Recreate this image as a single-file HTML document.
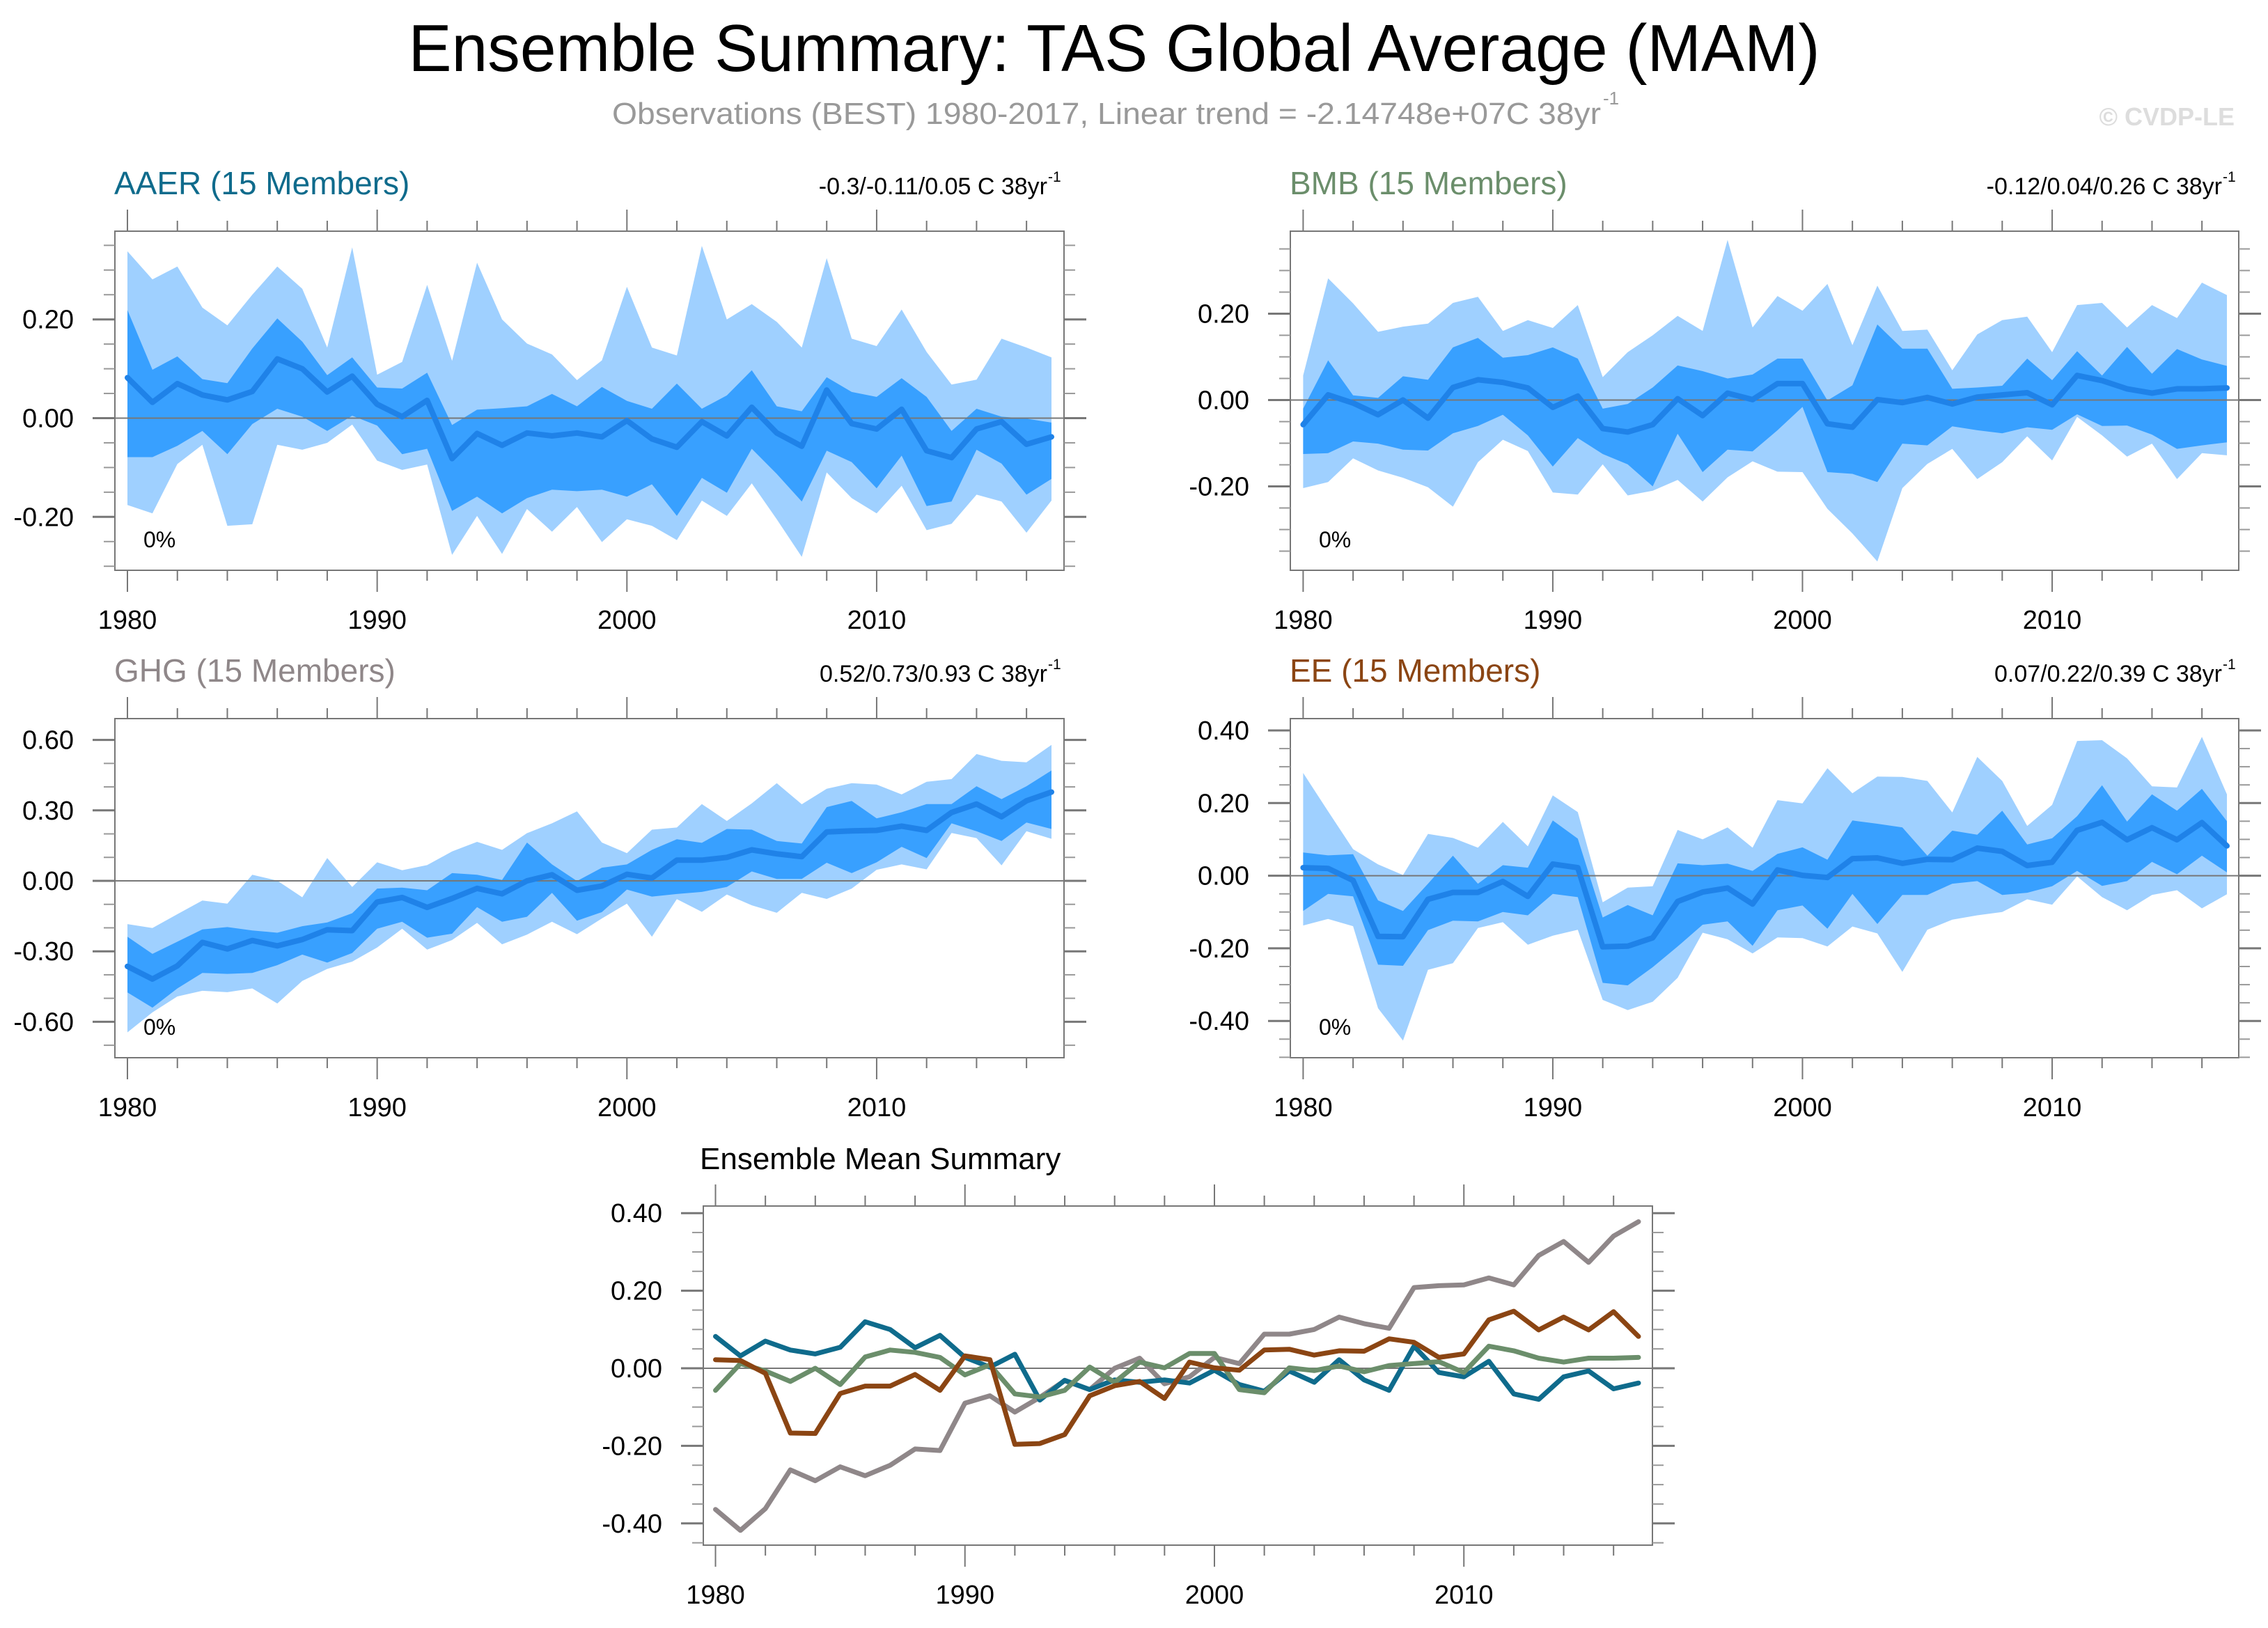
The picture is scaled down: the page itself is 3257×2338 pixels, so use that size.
<!DOCTYPE html>
<html><head><meta charset="utf-8">
<style>
html,body{margin:0;padding:0;background:#fff;}
svg{display:block;font-family:"Liberation Sans",Arial,sans-serif;}
</style></head>
<body>
<svg id="chart" xmlns="http://www.w3.org/2000/svg" width="3257" height="2338" viewBox="0 0 3257 2338">
<rect width="3257" height="2338" fill="#fff"/>
<text x="1600" y="102" font-size="96" text-anchor="middle" textLength="2027" lengthAdjust="spacingAndGlyphs" fill="#000">Ensemble Summary: TAS Global Average (MAM)</text>
<text x="879" y="178" font-size="44" fill="#999" textLength="1420" lengthAdjust="spacingAndGlyphs">Observations (BEST) 1980-2017, Linear trend = -2.14748e+07C 38yr</text>
<text x="2302" y="150" font-size="26" fill="#999">-1</text>
<text x="3209" y="180" font-size="36" font-weight="bold" fill="#ddd" text-anchor="end">© CVDP-LE</text>
<g id="plots"></g>
</svg>
<script>
const years = [];
for (let y = 1980; y <= 2017; y++) years.push(y);

// AAER
const aaerMean = [0.082,0.032,0.07,0.047,0.037,0.054,0.12,0.10,0.053,0.085,0.028,0.003,0.036,-0.082,-0.031,-0.055,-0.03,-0.036,-0.03,-0.038,-0.005,-0.042,-0.059,-0.007,-0.036,0.022,-0.03,-0.057,0.057,-0.011,-0.022,0.018,-0.066,-0.08,-0.022,-0.007,-0.053,-0.038];
const aaerLightHi = [0.338,0.281,0.307,0.224,0.188,0.25,0.307,0.262,0.143,0.346,0.088,0.114,0.27,0.116,0.315,0.2,0.151,0.129,0.077,0.117,0.266,0.143,0.127,0.349,0.2,0.231,0.195,0.143,0.324,0.161,0.146,0.22,0.134,0.068,0.078,0.161,0.143,0.123];
const aaerDarkHi = [0.219,0.098,0.125,0.079,0.071,0.141,0.202,0.155,0.087,0.123,0.062,0.06,0.092,-0.014,0.017,0.02,0.024,0.049,0.024,0.063,0.035,0.019,0.07,0.019,0.046,0.097,0.024,0.014,0.083,0.053,0.043,0.081,0.043,-0.026,0.019,0.003,-0.001,-0.009];
const aaerDarkLo = [-0.079,-0.079,-0.056,-0.026,-0.073,-0.012,0.019,0.003,-0.026,0.005,-0.015,-0.073,-0.062,-0.188,-0.159,-0.193,-0.162,-0.145,-0.148,-0.145,-0.159,-0.134,-0.198,-0.121,-0.151,-0.062,-0.113,-0.169,-0.066,-0.089,-0.142,-0.076,-0.178,-0.169,-0.064,-0.092,-0.155,-0.123];
const aaerLightLo = [-0.176,-0.193,-0.093,-0.054,-0.218,-0.215,-0.054,-0.064,-0.05,-0.013,-0.086,-0.105,-0.094,-0.277,-0.198,-0.275,-0.184,-0.23,-0.18,-0.251,-0.205,-0.218,-0.247,-0.167,-0.198,-0.132,-0.205,-0.281,-0.11,-0.162,-0.193,-0.137,-0.227,-0.214,-0.155,-0.169,-0.232,-0.167];

// BMB
const bmbMean = [-0.057,0.012,-0.007,-0.034,0,-0.042,0.029,0.047,0.041,0.028,-0.017,0.009,-0.066,-0.074,-0.057,0.003,-0.036,0.016,0.001,0.038,0.038,-0.055,-0.063,0.001,-0.006,0.006,-0.009,0.007,0.012,0.017,-0.011,0.057,0.045,0.026,0.016,0.026,0.026,0.028];
const bmbLightHi = [0.057,0.282,0.224,0.158,0.17,0.177,0.225,0.239,0.16,0.185,0.167,0.22,0.053,0.111,0.15,0.195,0.16,0.371,0.168,0.241,0.207,0.269,0.127,0.265,0.16,0.163,0.069,0.152,0.185,0.193,0.111,0.22,0.225,0.168,0.22,0.19,0.272,0.243];
const bmbDarkHi = [-0.02,0.092,0.011,0.005,0.055,0.047,0.122,0.144,0.098,0.104,0.122,0.096,-0.02,-0.009,0.029,0.08,0.067,0.05,0.059,0.096,0.096,-0.001,0.034,0.175,0.119,0.119,0.026,0.029,0.033,0.096,0.046,0.113,0.057,0.123,0.061,0.118,0.094,0.079];
const bmbDarkLo = [-0.125,-0.123,-0.096,-0.101,-0.115,-0.117,-0.077,-0.06,-0.034,-0.082,-0.154,-0.088,-0.125,-0.149,-0.2,-0.078,-0.167,-0.115,-0.119,-0.07,-0.016,-0.167,-0.171,-0.19,-0.101,-0.105,-0.061,-0.07,-0.077,-0.063,-0.069,-0.033,-0.06,-0.059,-0.08,-0.113,-0.105,-0.098];
const bmbLightLo = [-0.204,-0.19,-0.135,-0.163,-0.18,-0.202,-0.247,-0.144,-0.092,-0.118,-0.214,-0.219,-0.149,-0.221,-0.21,-0.185,-0.235,-0.179,-0.142,-0.166,-0.167,-0.252,-0.309,-0.374,-0.204,-0.148,-0.113,-0.183,-0.144,-0.084,-0.14,-0.039,-0.082,-0.131,-0.101,-0.183,-0.123,-0.128];

// GHG
const ghgMean = [-0.364,-0.418,-0.362,-0.262,-0.29,-0.254,-0.277,-0.25,-0.208,-0.212,-0.09,-0.071,-0.113,-0.075,-0.032,-0.055,0,0.026,-0.04,-0.022,0.028,0.012,0.088,0.088,0.10,0.132,0.115,0.103,0.208,0.213,0.215,0.233,0.215,0.291,0.327,0.273,0.341,0.378];
const ghgLightHi = [-0.184,-0.201,-0.142,-0.084,-0.097,0.026,0.001,-0.07,0.097,-0.026,0.079,0.045,0.067,0.125,0.166,0.132,0.203,0.245,0.296,0.163,0.118,0.218,0.227,0.327,0.255,0.33,0.416,0.326,0.392,0.416,0.41,0.368,0.422,0.433,0.54,0.511,0.505,0.579];
const ghgDarkHi = [-0.238,-0.311,-0.259,-0.207,-0.197,-0.211,-0.221,-0.193,-0.177,-0.138,-0.033,-0.029,-0.04,0.033,0.026,0.004,0.163,0.07,-0.001,0.056,0.07,0.132,0.177,0.162,0.221,0.218,0.17,0.159,0.314,0.34,0.266,0.292,0.327,0.327,0.403,0.348,0.403,0.47];
const ghgDarkLo = [-0.475,-0.54,-0.458,-0.392,-0.396,-0.392,-0.359,-0.314,-0.348,-0.307,-0.204,-0.174,-0.242,-0.225,-0.112,-0.174,-0.153,-0.051,-0.17,-0.133,-0.037,-0.067,-0.056,-0.047,-0.026,0.04,0.008,0.008,0.077,0.033,0.079,0.145,0.097,0.245,0.211,0.17,0.248,0.221];
const ghgLightLo = [-0.645,-0.56,-0.492,-0.468,-0.474,-0.458,-0.522,-0.426,-0.375,-0.344,-0.284,-0.204,-0.293,-0.252,-0.179,-0.27,-0.229,-0.174,-0.227,-0.16,-0.097,-0.238,-0.078,-0.132,-0.058,-0.104,-0.136,-0.051,-0.077,-0.033,0.047,0.07,0.049,0.204,0.182,0.066,0.211,0.179];

// EE
const eeMean = [0.022,0.02,-0.013,-0.167,-0.168,-0.065,-0.046,-0.046,-0.016,-0.057,0.032,0.022,-0.196,-0.194,-0.171,-0.071,-0.045,-0.034,-0.078,0.016,0.001,-0.005,0.047,0.049,0.034,0.045,0.044,0.076,0.067,0.028,0.037,0.125,0.147,0.099,0.132,0.099,0.146,0.082];
const eeLightHi = [0.283,0.177,0.073,0.031,0.002,0.115,0.104,0.077,0.148,0.081,0.221,0.175,-0.073,-0.033,-0.029,0.126,0.1,0.133,0.077,0.208,0.199,0.296,0.227,0.273,0.272,0.261,0.174,0.327,0.261,0.137,0.195,0.371,0.373,0.323,0.246,0.243,0.382,0.224];
const eeDarkHi = [0.064,0.056,0.059,-0.068,-0.097,-0.022,0.055,-0.022,0.029,0.022,0.152,0.102,-0.115,-0.081,-0.109,0.034,0.029,0.033,0.013,0.06,0.078,0.044,0.152,0.143,0.133,0.055,0.124,0.113,0.179,0.086,0.103,0.164,0.249,0.149,0.224,0.179,0.239,0.15];
const eeDarkLo = [-0.097,-0.05,-0.057,-0.245,-0.248,-0.15,-0.124,-0.126,-0.1,-0.109,-0.05,-0.059,-0.295,-0.302,-0.252,-0.195,-0.135,-0.126,-0.193,-0.095,-0.082,-0.146,-0.05,-0.133,-0.053,-0.053,-0.022,-0.015,-0.053,-0.047,-0.029,0.013,-0.028,-0.015,0.038,0.004,0.055,0.009];
const eeLightLo = [-0.137,-0.119,-0.139,-0.365,-0.454,-0.259,-0.241,-0.144,-0.128,-0.19,-0.165,-0.149,-0.342,-0.37,-0.347,-0.281,-0.157,-0.175,-0.214,-0.17,-0.172,-0.195,-0.14,-0.159,-0.265,-0.149,-0.121,-0.109,-0.1,-0.065,-0.08,-0.002,-0.059,-0.095,-0.053,-0.04,-0.09,-0.051];

const xTickLabels = ["1980","1990","2000","2010"];
const aaerYTicks = [-0.2,0,0.2];
const bmbYTicks = [-0.2,0,0.2];
const ghgYTicks = [-0.6,-0.3,0,0.3,0.6];
const eeYTicks = [-0.4,-0.2,0,0.2,0.4];
const summaryYTicks = [-0.4,-0.2,0,0.2,0.4];

const NS = "http://www.w3.org/2000/svg";
const root = document.getElementById("plots");
function mk(tag, attrs, parent) {
  const e = document.createElementNS(NS, tag);
  for (const k in attrs) e.setAttribute(k, attrs[k]);
  (parent || root).appendChild(e);
  return e;
}

function makeAxes(c) {
  const xs = yr => c.x0 + (yr - 1980) * (c.x1 - c.x0) / 37;
  const ys = v => c.y0 - v * c.k;
  return {xs, ys};
}

function drawFrame(c, g, ax, yTicks, minorStep) {
  const tc = "#777";
  for (let yr = 1980; yr <= 2017; yr += 2) {
    const major = (yr % 10 === 0);
    const L = major ? 31 : 15;
    const x = ax.xs(yr);
    const t1 = mk("line", {x1:x, x2:x, y1:c.top - L, y2:c.top, stroke:tc, "stroke-width":2}, g);
    
    
    const t2 = mk("line", {x1:x, x2:x, y1:c.bottom, y2:c.bottom + L, stroke:tc, "stroke-width":2}, g);
    
    
  }
  xTickLabels.forEach(lab => {
    const t = mk("text", {x:ax.xs(+lab), y:c.bottom + 84, "font-size":38, "text-anchor":"middle", fill:"#000"}, g);
    
    
    t.textContent = lab;
  });
  const vmin = -(c.bottom - c.y0) / c.k, vmax = (c.y0 - c.top) / c.k;
  for (let v = Math.ceil(vmin / minorStep) * minorStep; v <= vmax + 1e-9; v += minorStep) {
    const y = ax.ys(v);
    const a = mk("line", {x1:c.left - 16, x2:c.left, y1:y, y2:y, stroke:"#999", "stroke-width":2}, g);
    
    
    const b = mk("line", {x1:c.right, x2:c.right + 16, y1:y, y2:y, stroke:"#999", "stroke-width":2}, g);
    
    
  }
  yTicks.forEach(v => {
    const y = ax.ys(v);
    const a = mk("line", {x1:c.left - 32, x2:c.left, y1:y, y2:y, stroke:tc, "stroke-width":3}, g);
    
    
    const b = mk("line", {x1:c.right, x2:c.right + 32, y1:y, y2:y, stroke:tc, "stroke-width":3}, g);
    
    
    const t = mk("text", {x:c.left - 59, y:y + 13, "font-size":38, "text-anchor":"end", fill:"#000"}, g);
    
    
    t.textContent = v.toFixed(2);
  });
}

function bandPath(ax, hi, lo) {
  let d = "";
  hi.forEach((v, i) => { d += (i ? "L" : "M") + ax.xs(years[i]).toFixed(1) + " " + ax.ys(v).toFixed(1); });
  for (let i = lo.length - 1; i >= 0; i--) d += "L" + ax.xs(years[i]).toFixed(1) + " " + ax.ys(lo[i]).toFixed(1);
  return d + "Z";
}
function linePath(ax, arr) {
  let d = "";
  arr.forEach((v, i) => { d += (i ? "L" : "M") + ax.xs(years[i]).toFixed(1) + " " + ax.ys(v).toFixed(1); });
  return d;
}

function drawPanel(c) {
  const g = mk("g", {});
  
  
  const ax = makeAxes(c);
  const clipId = c.name + "-clip";
  const cp = mk("clipPath", {id:clipId}, g);
  mk("rect", {x:c.left, y:c.top, width:c.right - c.left, height:c.bottom - c.top}, cp);
  const inner = mk("g", {"clip-path":"url(#" + clipId + ")"}, g);
  const lb = mk("path", {d:bandPath(ax, c.lightHi, c.lightLo), fill:"#9fd0ff"}, inner);
  
  
  const db = mk("path", {d:bandPath(ax, c.darkHi, c.darkLo), fill:"#38a0ff"}, inner);
  
  
  const z = mk("line", {x1:c.left, x2:c.right, y1:ax.ys(0), y2:ax.ys(0), stroke:"#777", "stroke-width":2}, inner);
  
  
  const ml = mk("path", {d:linePath(ax, c.mean), fill:"none", stroke:"#1f82e8", "stroke-width":8, "stroke-linejoin":"round", "stroke-linecap":"round"}, inner);
  
  
  const fr = mk("rect", {x:c.left, y:c.top, width:c.right - c.left, height:c.bottom - c.top, fill:"none", stroke:"#777", "stroke-width":2}, g);
  
  
  drawFrame(c, g, ax, c.yTicks, c.minor);
  const tt = mk("text", {x:c.left - 1, y:c.top - 53, "font-size":46, fill:c.color}, g);
  
  
  tt.textContent = c.title;
  const st = mk("text", {x:c.right - 24, y:c.top - 53, "font-size":34, "text-anchor":"end", fill:"#000"}, g);
  
  
  st.textContent = c.stat;
  const sup = mk("text", {x:c.right - 23, y:c.top - 71, "font-size":21, fill:"#000"}, g);
  
  
  sup.textContent = "-1";
  const pc = mk("text", {x:c.left + 41, y:c.bottom - 33, "font-size":32, fill:"#000"}, g);
  
  
  pc.textContent = "0%";
}

drawPanel({name:"aaer", title:"AAER (15 Members)", color:"#0f6b8c", stat:"-0.3/-0.11/0.05 C 38yr",
  left:165, right:1528, top:332, bottom:819, x0:183, x1:1510, y0:600.5, k:709,
  yTicks:aaerYTicks, minor:0.05, mean:aaerMean, lightHi:aaerLightHi, darkHi:aaerDarkHi, darkLo:aaerDarkLo, lightLo:aaerLightLo});
drawPanel({name:"bmb", title:"BMB (15 Members)", color:"#6b8e6b", stat:"-0.12/0.04/0.26 C 38yr",
  left:1853, right:3215, top:332, bottom:819, x0:1871.4, x1:3198, y0:574.5, k:620,
  yTicks:bmbYTicks, minor:0.05, mean:bmbMean, lightHi:bmbLightHi, darkHi:bmbDarkHi, darkLo:bmbDarkLo, lightLo:bmbLightLo});
drawPanel({name:"ghg", title:"GHG (15 Members)", color:"#8f8789", stat:"0.52/0.73/0.93 C 38yr",
  left:165, right:1528, top:1032, bottom:1519, x0:183, x1:1510, y0:1265, k:337.3,
  yTicks:ghgYTicks, minor:0.1, mean:ghgMean, lightHi:ghgLightHi, darkHi:ghgDarkHi, darkLo:ghgDarkLo, lightLo:ghgLightLo});
drawPanel({name:"ee", title:"EE (15 Members)", color:"#8b4513", stat:"0.07/0.22/0.39 C 38yr",
  left:1853, right:3215, top:1032, bottom:1519, x0:1871.4, x1:3198, y0:1257.6, k:521.6,
  yTicks:eeYTicks, minor:0.05, mean:eeMean, lightHi:eeLightHi, darkHi:eeDarkHi, darkLo:eeDarkLo, lightLo:eeLightLo});

(function(){
  const c = {name:"summary", left:1010, right:2373, top:1732, bottom:2219, x0:1027.5, x1:2353, y0:1965, k:557};
  const g = mk("g", {});
  
  
  const ax = makeAxes(c);
  const cp = mk("clipPath", {id:"sum-clip"}, g);
  mk("rect", {x:c.left, y:c.top, width:c.right - c.left, height:c.bottom - c.top}, cp);
  const inner = mk("g", {"clip-path":"url(#sum-clip)"}, g);
  const z = mk("line", {x1:c.left, x2:c.right, y1:ax.ys(0), y2:ax.ys(0), stroke:"#777", "stroke-width":2}, inner);
  
  
  const series = [
    {n:"ghg-mean-line", d:ghgMean, col:"#8f8789"},
    {n:"aaer-mean-line", d:aaerMean, col:"#0f6b8c"},
    {n:"bmb-mean-line", d:bmbMean, col:"#6b8e6b"},
    {n:"ee-mean-line", d:eeMean, col:"#8b4513"}
  ];
  series.forEach(s => {
    const p = mk("path", {d:linePath(ax, s.d), fill:"none", stroke:s.col, "stroke-width":7, "stroke-linejoin":"round", "stroke-linecap":"round"}, inner);
    
    
  });
  const fr = mk("rect", {x:c.left, y:c.top, width:c.right - c.left, height:c.bottom - c.top, fill:"none", stroke:"#777", "stroke-width":2}, g);
  
  
  drawFrame(c, g, ax, summaryYTicks, 0.05);
  const tt = mk("text", {x:1005, y:1679, "font-size":44, fill:"#000"}, g);
  
  
  tt.textContent = "Ensemble Mean Summary";
})();
</script>
</body></html>
